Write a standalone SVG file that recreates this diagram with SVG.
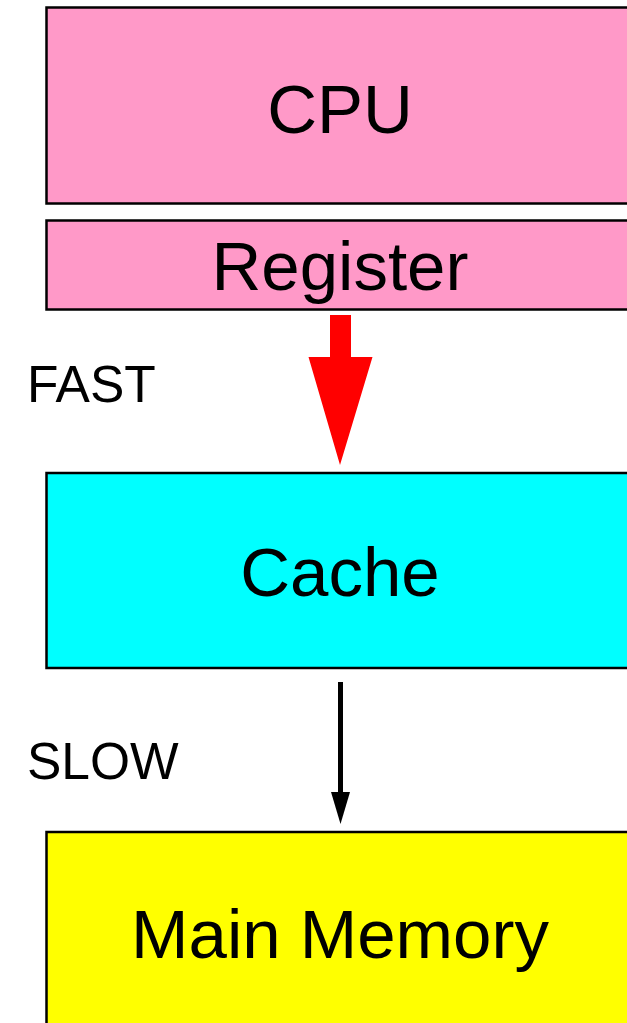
<svg xmlns="http://www.w3.org/2000/svg" width="627" height="1023" viewBox="0 0 627 1023">
<style>
.box{stroke:#000;stroke-width:2.5}
.lbl{font-family:"Liberation Sans",Arial,sans-serif;font-size:69px;fill:#000;text-anchor:middle}
.side{font-family:"Liberation Sans",Arial,sans-serif;font-size:51.5px;fill:#000}
</style>
<rect width="627" height="1023" fill="#fff"/>
<g id="cpu"><rect class="box" x="46.5" y="7.5" width="588" height="196" fill="#ff99c8"/><text class="lbl" x="340" y="133">CPU</text></g>
<g id="register"><rect class="box" x="46.5" y="220.5" width="588" height="89" fill="#ff99c8"/><text class="lbl" x="340" y="290">Register</text></g>
<g id="cache"><rect class="box" x="46.5" y="473" width="588" height="195" fill="#00ffff"/><text class="lbl" x="340" y="596">Cache</text></g>
<g id="main-memory"><rect class="box" x="46.5" y="832" width="588" height="200" fill="#ffff00"/><text class="lbl" x="340" y="958">Main Memory</text></g>
<g id="connectors">
<polygon points="330,315 351,315 351,357 372.5,357 340,465 308.5,357 330,357" fill="#ff0000"/>
<text class="side" x="27" y="402">FAST</text>
<line x1="340.5" y1="682" x2="340.5" y2="795" stroke="#000" stroke-width="5"/>
<polygon points="331,792 350,792 340.5,824" fill="#000"/>
<text class="side" x="27" y="779">SLOW</text>
</g>
</svg>
